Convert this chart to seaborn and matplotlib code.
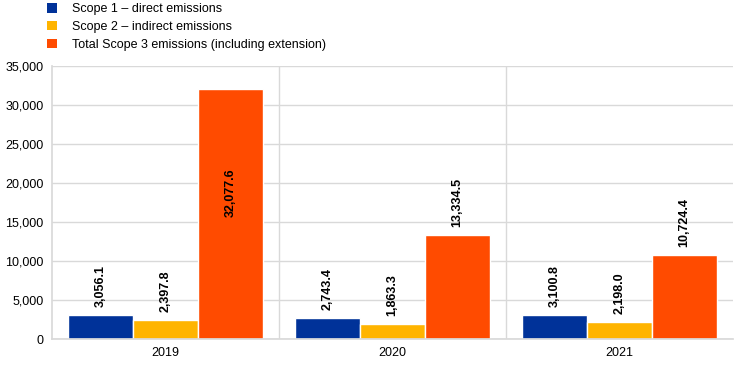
import matplotlib
matplotlib.use("Agg")
import matplotlib.pyplot as plt
import seaborn as sns
import pandas as pd
from matplotlib.ticker import FuncFormatter, MultipleLocator
from matplotlib.patches import Patch

years = ["2019", "2020", "2021"]
series = ["Scope 1 – direct emissions", "Scope 2 – indirect emissions",
          "Total Scope 3 emissions (including extension)"]
scope1 = [3056.1, 2743.4, 3100.8]
scope2 = [2397.8, 1863.3, 2198.0]
scope3 = [32077.6, 13334.5, 10724.4]
colors = ["#003299", "#FFB400", "#FF4B00"]

rows = []
for s, vals in zip(series, [scope1, scope2, scope3]):
    for y, v in zip(years, vals):
        rows.append({"year": y, "series": s, "value": v})
df = pd.DataFrame(rows)

sns.set_theme(style="white")
plt.rcParams['font.family'] = ['Liberation Sans', 'DejaVu Sans']
plt.rcParams['text.color'] = 'black'

fig = plt.figure(figsize=(7.44, 3.67), dpi=100)
ax = fig.add_axes([52/744, 1-339/367, (733-52)/744, (339-66)/367])

sns.barplot(data=df, x="year", y="value", hue="series", palette=colors,
            order=years, hue_order=series, width=0.86, ax=ax,
            legend=False, saturation=1, errorbar=None)

ax.set_ylim(0, 35000)
ax.set_xlim(-0.5, 2.5)
ax.yaxis.set_major_locator(MultipleLocator(5000))
ax.yaxis.set_major_formatter(FuncFormatter(lambda v, p: f"{v:,.0f}"))
ax.grid(axis="y", color="#d9d9d9", linewidth=1)
ax.set_axisbelow(True)
for xv in [0.5, 1.5]:
    ax.axvline(xv, color="#d9d9d9", linewidth=1, zorder=0)
for side in ["top", "right"]:
    ax.spines[side].set_visible(False)
ax.spines["left"].set_color("#d9d9d9")
ax.spines["bottom"].set_color("#d9d9d9")
ax.set_xlabel("")
ax.set_ylabel("")
ax.tick_params(axis="both", length=0, labelsize=9, colors="black", pad=6)

ymax = ax.get_ylim()[1]
for cont in ax.containers:
    for bar in cont:
        h = bar.get_height()
        cx = bar.get_x() + bar.get_width()/2
        if h > 0.8 * ymax:
            ax.annotate(f"{h:,.1f}", (cx, h), xytext=(0, -80),
                        textcoords="offset pixels", rotation=90, color="black",
                        ha="center", va="top", fontsize=9, fontweight="bold")
        else:
            ax.annotate(f"{h:,.1f}", (cx, h), xytext=(0, 8),
                        textcoords="offset pixels", rotation=90, color="black",
                        ha="center", va="bottom", fontsize=9, fontweight="bold")

handles = [Patch(facecolor=c, edgecolor="none") for c in colors]
leg = fig.legend(handles, series, loc="upper left", bbox_to_anchor=(42/744, 1.005),
                 frameon=False, fontsize=9, handlelength=0.8, handleheight=0.8,
                 labelspacing=0.45, handletextpad=1.2, borderaxespad=0)
for t in leg.get_texts():
    t.set_color("black")

fig.savefig("out.png", dpi=100)
